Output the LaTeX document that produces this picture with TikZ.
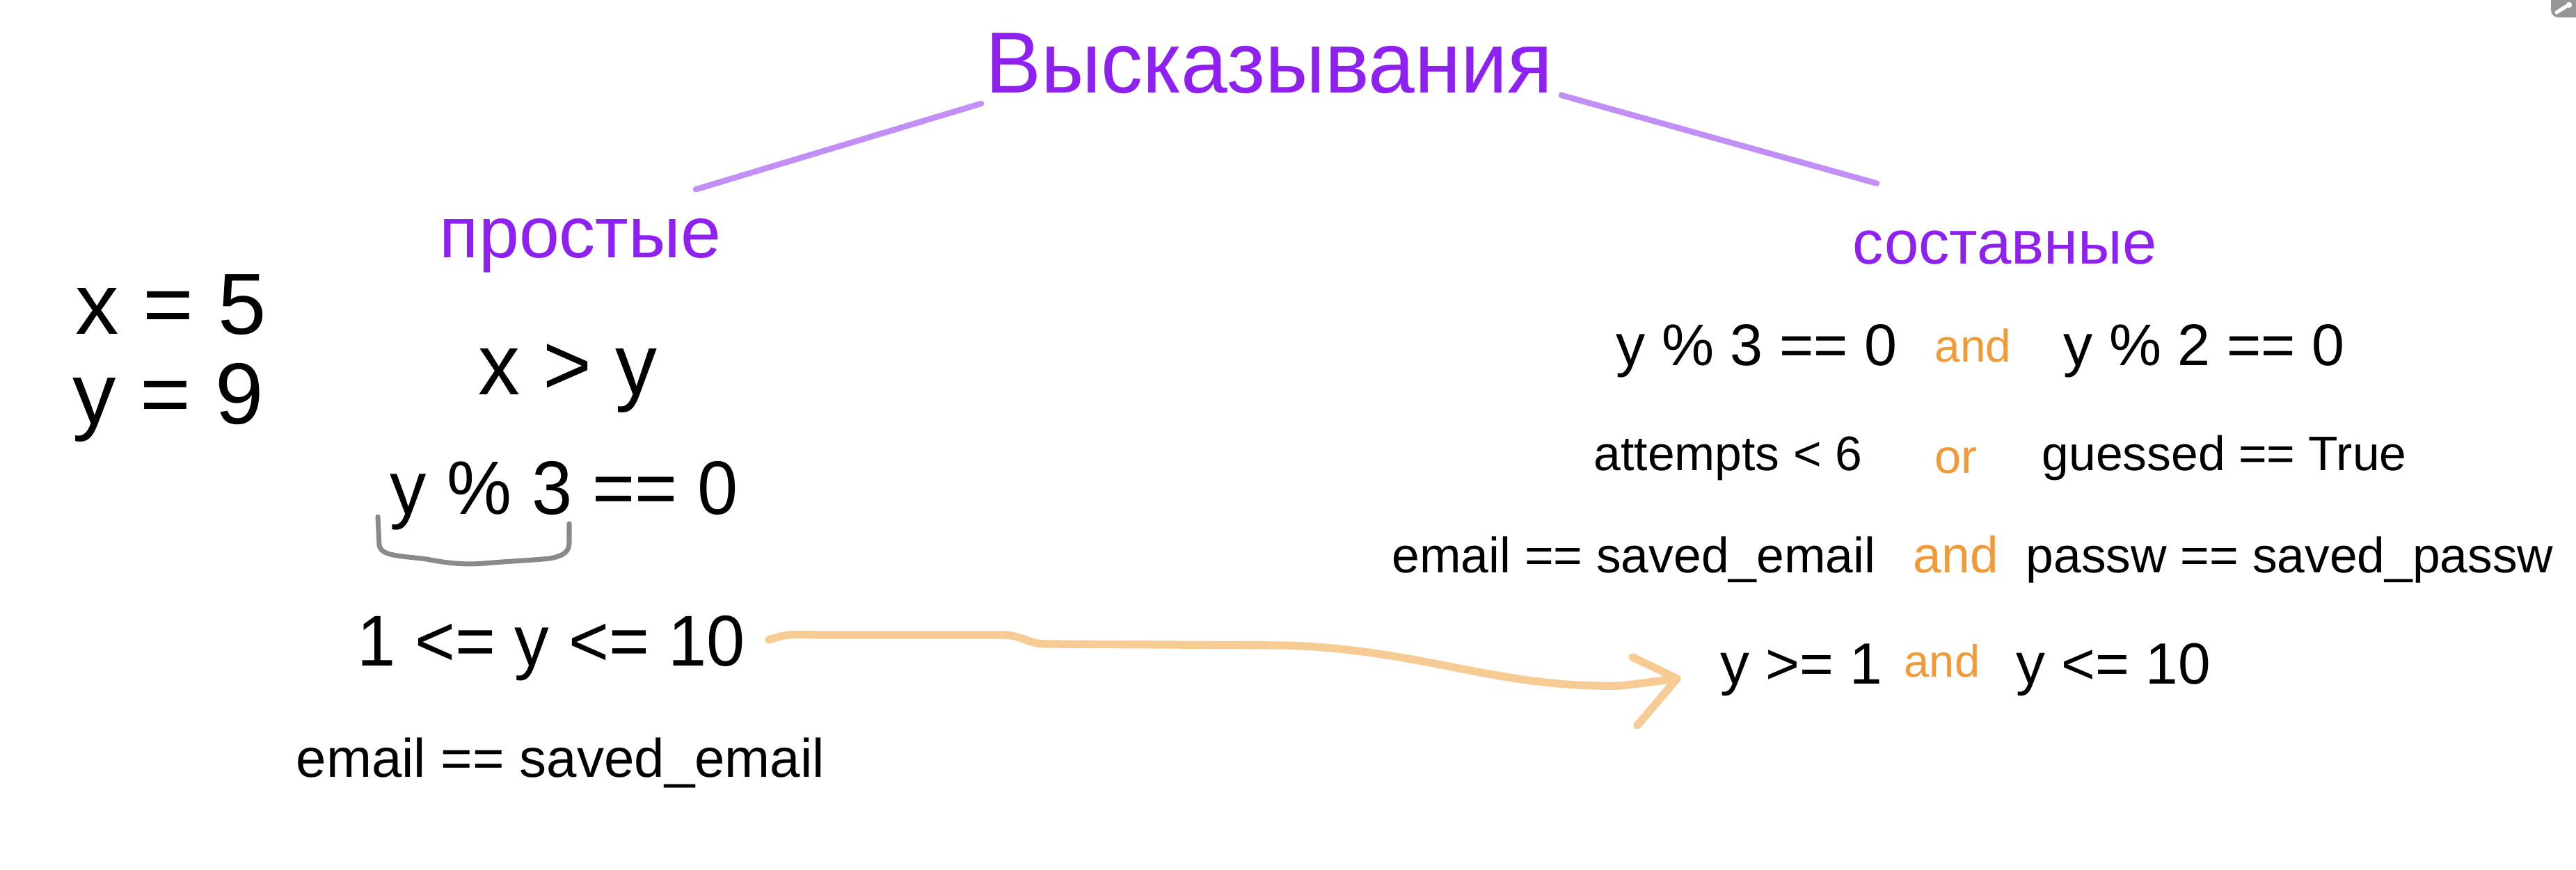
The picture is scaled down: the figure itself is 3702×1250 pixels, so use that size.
\documentclass[tikz,border=0pt]{standalone}
\usepackage{fontspec}
\setmainfont{Liberation Sans}
\newfontfamily\tightfont[FakeStretch=0.96]{Liberation Sans}
\usetikzlibrary{calc}

\definecolor{titlepurple}{RGB}{142,32,240}
\definecolor{linepurple}{RGB}{193,143,245}
\definecolor{oporange}{RGB}{240,154,56}
\definecolor{arroworange}{RGB}{246,204,148}
\definecolor{bracegray}{RGB}{138,138,138}
\definecolor{icongray}{RGB}{150,150,150}

% font size in pt
\newcommand{\fsz}[1]{\fontsize{#1}{#1}\selectfont}
% big display text, a bit narrower
\newcommand{\bigsz}[1]{\tightfont\fontsize{#1}{#1}\selectfont}

\begin{document}
\begin{tikzpicture}[x=0.01cm, y=-0.01cm,
    txt/.style={inner sep=0pt, anchor=base west},
    kind/.style={txt, text=titlepurple},
    logic/.style={txt, text=oporange},
    branch/.style={linepurple, line width=2.4pt, line cap=round},
    flow/.style={arroworange, line width=3.2pt, line cap=round, line join=round},
    brace/.style={bracegray, line width=2pt, line cap=round}]

\useasboundingbox (0,0) rectangle (3702,1250);
\fill[white] (0,0) rectangle (3702,1250);

% titles
\node[kind, font=\bigsz{35.5}] (title) at (1416,133) {Высказывания};
\node[kind, font=\fsz{29.6}] (simple) at (631,370) {простые};
\node[kind, font=\fsz{25.2}] (compound) at (2662,379) {составные};

\draw[branch] ([shift={(-6,14)}]title.south west) -- ([shift={(-37,-41)}]simple.north east);
\draw[branch] ([shift={(12,2)}]title.south east) -- ([shift={(35,-67)}]compound.north west);

% left column
\node[txt, font=\fsz{35.5}] (xval) at (108,480) {x = 5};
\node[txt, font=\fsz{35.5}] (yval) at (104,609) {y = 9};
\node[txt, font=\bigsz{35.5}] (cmp) at (687,567) {x > y};
\node[txt, font=\bigsz{31}] (mod) at (560,739) {y \% 3 == 0};
\node[txt, font=\bigsz{29.4}] (range) at (513,957) {1 <= y <= 10};
\node[txt, font=\fsz{22.2}] (mail) at (425,1117) {email == saved\_email};

\draw[brace] (543,743) -- (545,784) .. controls (548,800) and (575,799) .. (613,804)
    .. controls (650,811) and (670,812) .. (696,810) .. controls (730,807) and (760,806) .. (790,803)
    .. controls (812,799) and (818,792) .. (818,780) -- (818,753);

% right column: n / x left / x op / x right / baseline / op baseline / size / op size / texts
\foreach \n/\xa/\xo/\xb/\yb/\yo/\fa/\fo/\lhs/\op/\rhs in {
    1/2322/2780/2965/525/520/24.0/18.7/{y \% 3 == 0}/and/{y \% 2 == 0},
    2/2290/2780/2934/676/680/19.8/19.5/{attempts < 6}/or/{guessed == True},
    3/2000/2749/2911/823/823/20.3/20.8/{email == saved\_email}/and/{passw == saved\_passw},
    4/2472/2736/2897/983/973/23.8/18.5/{y >= 1}/and/{y <= 10}} {
    \node[txt, font=\fsz{\fa}] (c\n a) at (\xa,\yb) {\lhs};
    \node[logic, font=\fsz{\fo}] (c\n o) at (\xo,\yo) {\op};
    \node[txt, font=\fsz{\fa}] (c\n b) at (\xb,\yb) {\rhs};
}

% hand drawn arrow
\coordinate (tip) at ($(c4a.base west)+(-62,-7)$);
\draw[flow] ([shift={(33,-37)}]range.base east) .. controls (1130,912) .. (1180,913) -- (1440,913)
    .. controls (1470,913) and (1475,926) .. (1505,926) -- (1850,928)
    .. controls (2050,935) and (2150,990) .. (2330,986) -- (tip);
\draw[flow] ([shift={(-64,-31)}]tip) .. controls ([shift={(-30,-15)}]tip) .. (tip) -- ([shift={(-57,67)}]tip);

% corner icon
\fill[icongray, rounded corners=3pt] (3666,-20) -- (3666,25) -- (3720,25) -- (3720,-20) -- cycle;
\draw[white, line width=1.5pt, line cap=round] (3674,18) -- (3688,9);
\fill[white] (3692,7) circle (1.2pt);

\end{tikzpicture}
\end{document}
